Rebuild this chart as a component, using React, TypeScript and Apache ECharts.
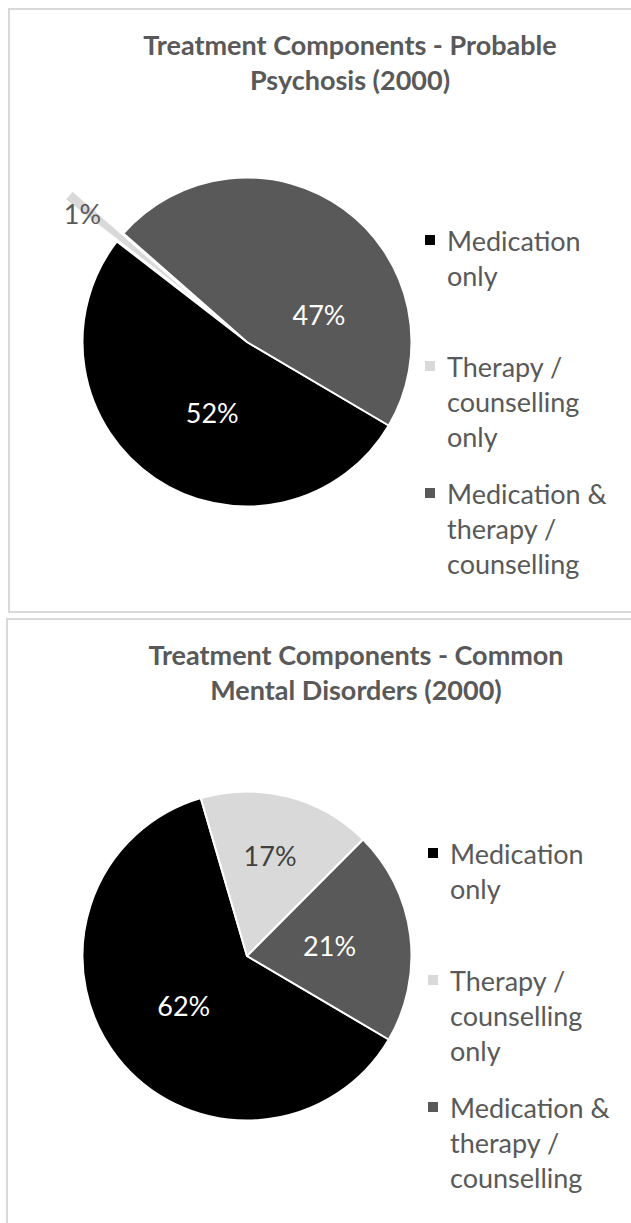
import React, { useEffect, useRef } from "react";
import * as echarts from "echarts";

const categories = [
  "Medication only",
  "Therapy / counselling only",
  "Medication & therapy / counselling",
];
const legendLabels = [
  "Medication\nonly",
  "Therapy /\ncounselling\nonly",
  "Medication &\ntherapy /\ncounselling",
];
const psychosisValues = [52, 1, 47];
const commonValues = [62, 17, 21];
const titles = [
  "Treatment Components - Probable\nPsychosis (2000)",
  "Treatment Components - Common\nMental Disorders (2000)",
];
const sliceColors = ["#000000", "#d9d9d9", "#595959"];
const labelColors = ["#ffffff", "#595959", "#ffffff"];
const labelColors2 = ["#ffffff", "#404040", "#ffffff"];

const FONT = "Lato";
const GREY = "#595959";

export default function App() {
  const ref = useRef<HTMLDivElement>(null);
  useEffect(() => {
    document.body.style.margin = "0";
    const chart = echarts.init(ref.current!, null, { renderer: "svg" });

    const panels = [
      {
        dy: 0, values: psychosisValues, lblColors: labelColors, explode: true,
        titleX: 350, titleTop: 27, legendX: 425, legendYs: [240, 366, 493],
        nudges: [[13, 0], [37, 18], [22, 42]],
      },
      {
        dy: 614, values: commonValues, lblColors: labelColors2, explode: false,
        titleX: 356, titleTop: 637, legendX: 428, legendYs: [853, 980, 1107],
        nudges: [[4, -3], [2, -18], [-2, 0]],
      },
    ];

    const graphic: any[] = [
      { type: "rect", shape: { x: 9, y: 9, width: 700, height: 603 }, style: { fill: "none", stroke: "#d9d9d9", lineWidth: 2 }, z: 0 },
      { type: "rect", shape: { x: 7, y: 619, width: 700, height: 700 }, style: { fill: "none", stroke: "#d9d9d9", lineWidth: 2 }, z: 0 },
    ];
    panels.forEach((p) => {
      categories.forEach((c, i) => {
        const cy = p.legendYs[i];
        graphic.push({
          type: "rect",
          shape: { x: p.legendX, y: cy - 5, width: 10, height: 10 },
          style: { fill: sliceColors[i] },
        });
        graphic.push({
          type: "text",
          x: p.legendX + 22,
          y: cy - 17.5,
          style: {
            text: legendLabels[i],
            fontFamily: FONT,
            fontSize: 27,
            lineHeight: 35,
            fill: GREY,
            align: "left",
            verticalAlign: "top",
          },
        });
      });
    });

    const option: any = {
      animation: false,
      backgroundColor: "#ffffff",
      title: panels.map((p, k) => ({
        text: titles[k],
        left: p.titleX,
        top: p.titleTop,
        padding: 0,
        textAlign: "center",
        textVerticalAlign: "top",
        textStyle: { fontFamily: FONT, fontSize: 27, fontWeight: "bold", color: GREY, lineHeight: 35 },
      })),
      graphic,
      series: panels.map((p) => ({
        type: "pie",
        center: [247, 342 + p.dy],
        radius: 164.5,
        startAngle: 329.5,
        clockwise: true,
        selectedMode: p.explode ? "single" : false,
        selectedOffset: 66,
        avoidLabelOverlap: false,
        emphasis: { disabled: true },
        itemStyle: { borderColor: "#ffffff", borderWidth: 2 },
        label: {
          show: true,
          position: "inside",
          formatter: "{c}%",
          fontFamily: FONT,
          fontSize: 27,
        },
        labelLine: { show: false, length: 0, length2: 0 },
        labelLayout: (params: any) => {
          const n = p.nudges[params.dataIndex] || [0, 0];
          return { dx: n[0], dy: n[1] };
        },
        data: categories.map((name, i) => ({
          name,
          value: p.values[i],
          selected: p.explode && i === 1,
          itemStyle: p.explode && i === 1
            ? { color: sliceColors[i], borderWidth: 0.5 }
            : { color: sliceColors[i] },
          label: p.explode && i === 1
            ? { position: "outside", color: p.lblColors[i] }
            : { color: p.lblColors[i] },
        })),
      })),
    };
    chart.setOption(option);
    return () => chart.dispose();
  }, []);
  return <div ref={ref} style={{ width: 631, height: 1223 }} />;
}
